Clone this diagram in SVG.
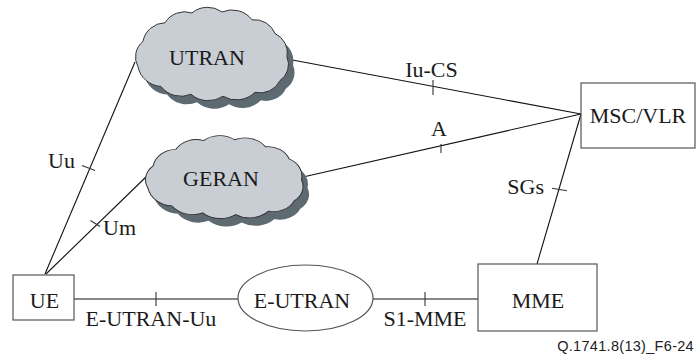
<svg xmlns="http://www.w3.org/2000/svg" width="696" height="354" viewBox="0 0 696 354">
<defs>
<style>
.lbl{font-family:'Liberation Serif','Times New Roman',serif;font-size:22px;fill:#1a1a1a}
.box{fill:#fff;stroke:#555;stroke-width:1.2}
.ln{stroke:#111;stroke-width:1.1;fill:none}
.tick{stroke:#333;stroke-width:1.1;fill:none}
.cloud{fill:#c9cdd4;stroke:#333;stroke-width:1}
.shadow{fill:#5d6a72;stroke:none}
.foot{font-family:'Liberation Sans',Arial,sans-serif;font-size:14.5px;fill:#222}
</style>
<path id="cloudShape" d="M1,58 A21,21 0 0 1 6,32 A23,23 0 0 1 28,13 A23,23 0 0 1 55,3 A24,24 0 0 1 85,2 A25,25 0 0 1 115,10 A22,22 0 0 1 138,24 A22,22 0 0 1 150,48 A20,20 0 0 1 143,72 A22,22 0 0 1 118,84 A26,26 0 0 1 86,88 A26,26 0 0 1 54,86 A25,25 0 0 1 24,78 A25,25 0 0 1 1,58 Z"/>
</defs>
<rect width="696" height="354" fill="#fff"/>
<g id="connectors">
<line class="ln" x1="45" y1="274" x2="135" y2="62"/>
<line class="ln" x1="46" y1="274" x2="148" y2="175"/>
<line class="ln" x1="287" y1="59" x2="581" y2="114"/>
<line class="ln" x1="303" y1="177" x2="581" y2="114"/>
<line class="ln" x1="537" y1="264" x2="581" y2="114"/>
<line class="ln" x1="74" y1="299" x2="238" y2="299"/>
<line class="ln" x1="373" y1="299" x2="478" y2="299"/>
<line class="tick" x1="82" y1="165.5" x2="95" y2="170.5"/>
<line class="tick" x1="90.5" y1="220.5" x2="100" y2="226.5"/>
<line class="tick" x1="552" y1="188.3" x2="567" y2="190.7"/>
<line class="tick" x1="433" y1="80" x2="433" y2="95"/>
<line class="tick" x1="441" y1="144" x2="441" y2="153"/>
<line class="tick" x1="156" y1="292" x2="156" y2="306"/>
<line class="tick" x1="425" y1="292" x2="425" y2="306"/>
<text class="lbl" x="48" y="168">Uu</text>
<text class="lbl" x="103" y="235">Um</text>
<text class="lbl" x="431.5" y="77" text-anchor="middle">Iu-CS</text>
<text class="lbl" x="439" y="136" text-anchor="middle">A</text>
<text class="lbl" x="544" y="194" text-anchor="end">SGs</text>
<text class="lbl" x="151" y="326" text-anchor="middle">E-UTRAN-Uu</text>
<text class="lbl" x="425" y="326" text-anchor="middle">S1-MME</text>
</g>
<g id="utran">
<use href="#cloudShape" class="shadow" transform="translate(143,18) scale(1.0,0.98)"/>
<use href="#cloudShape" class="cloud" transform="translate(137,10) scale(1.0,0.98)"/>
<text class="lbl" x="207" y="65" text-anchor="middle">UTRAN</text>
</g>
<g id="geran">
<use href="#cloudShape" class="shadow" transform="translate(153,146) scale(1.03,0.87)"/>
<use href="#cloudShape" class="cloud" transform="translate(147,138) scale(1.03,0.87)"/>
<text class="lbl" x="221" y="186" text-anchor="middle">GERAN</text>
</g>
<g id="ue">
<rect class="box" x="13" y="275" width="61" height="45"/>
<text class="lbl" x="44.5" y="307.5" text-anchor="middle">UE</text>
</g>
<g id="eutran">
<ellipse class="box" cx="305.5" cy="298" rx="67.5" ry="33"/>
<text class="lbl" x="302" y="307.5" text-anchor="middle">E-UTRAN</text>
</g>
<g id="mme">
<rect class="box" x="478" y="264" width="119" height="67"/>
<text class="lbl" x="538" y="308" text-anchor="middle">MME</text>
</g>
<g id="msc">
<rect class="box" x="581" y="83" width="114" height="65"/>
<text class="lbl" x="638" y="123" text-anchor="middle">MSC/VLR</text>
</g>
<text class="foot" x="694" y="351" text-anchor="end" letter-spacing="0.3">Q.1741.8(13)_F6-24</text>
</svg>
